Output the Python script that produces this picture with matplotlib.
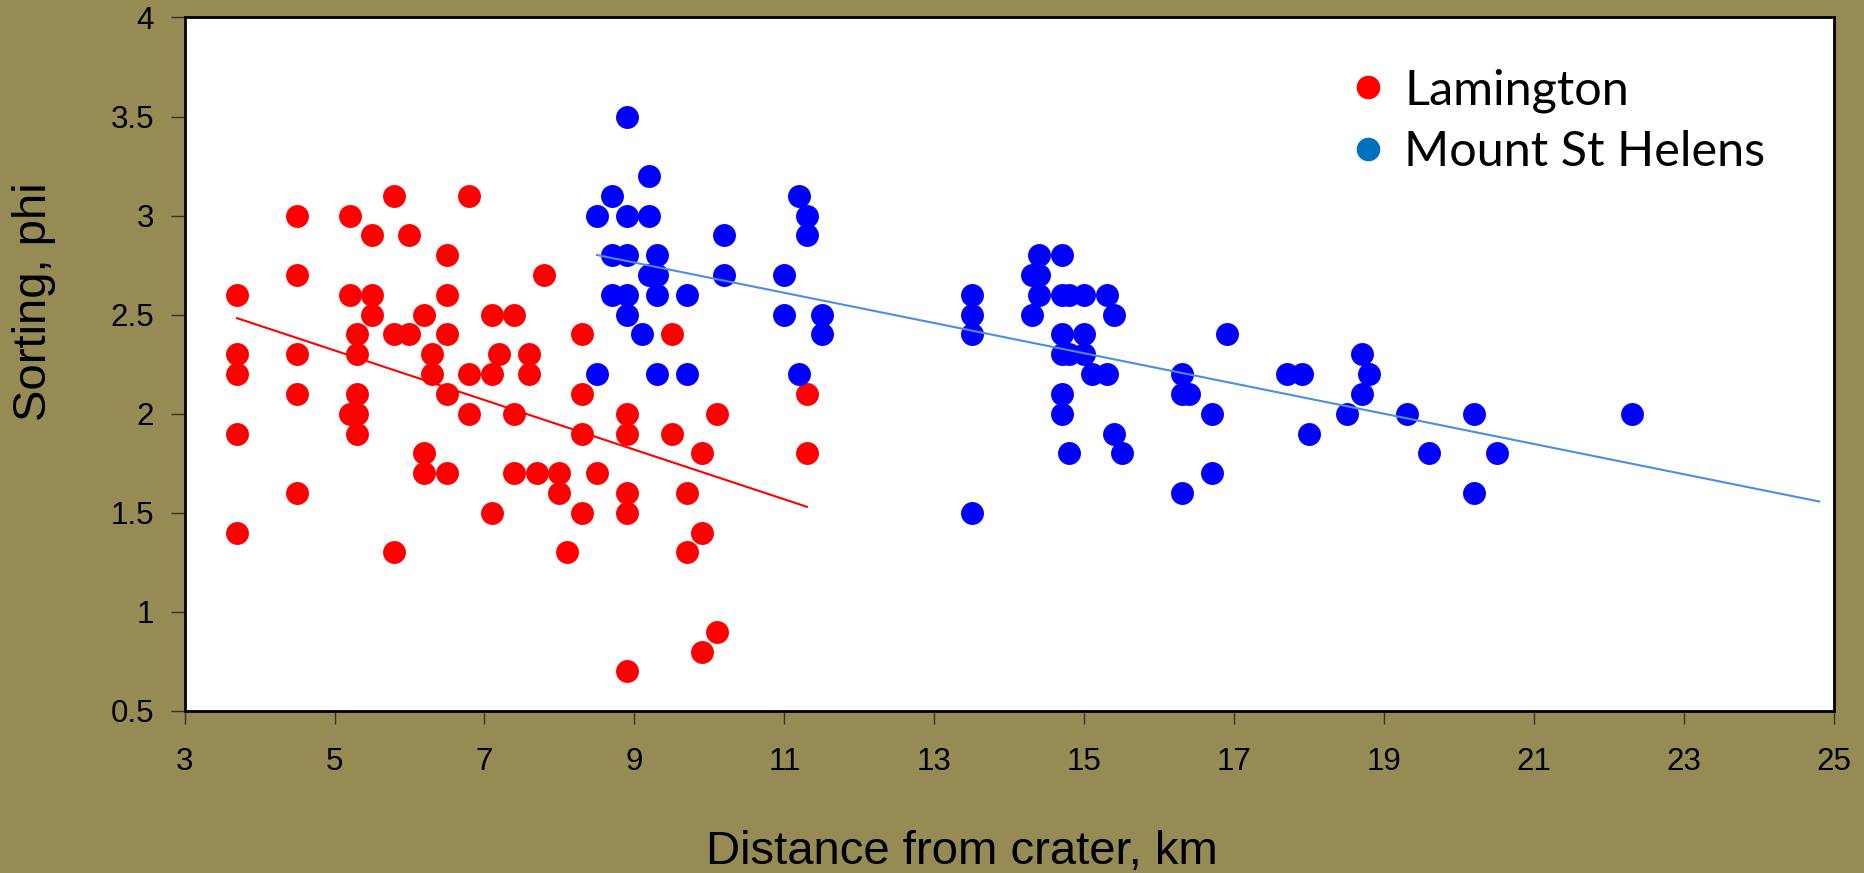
import matplotlib
matplotlib.use("Agg")
import matplotlib.pyplot as plt
from matplotlib.lines import Line2D
import numpy as np

# Lamington: distance from crater (km) vs sorting (phi)
lam_x = [3.7, 3.7, 3.7, 3.7, 3.7,
         4.5, 4.5, 4.5, 4.5, 4.5,
         5.2, 5.2, 5.2,
         5.3, 5.3, 5.3, 5.3, 5.3,
         5.5, 5.5, 5.5,
         5.8, 5.8, 5.8,
         6.0, 6.0,
         6.2, 6.2, 6.2,
         6.3, 6.3,
         6.5, 6.5, 6.5, 6.5, 6.5,
         6.8, 6.8, 6.8,
         7.1, 7.1, 7.1,
         7.2,
         7.4, 7.4, 7.4,
         7.6, 7.6,
         7.7, 7.8,
         8.0, 8.0, 8.1,
         8.3, 8.3, 8.3, 8.3,
         8.5,
         8.9, 8.9, 8.9, 8.9, 8.9,
         9.5, 9.5,
         9.7, 9.7,
         9.9, 9.9, 9.9,
         10.1, 10.1,
         11.3, 11.3]
lam_y = [2.6, 2.3, 2.2, 1.9, 1.4,
         3.0, 2.7, 2.3, 2.1, 1.6,
         3.0, 2.6, 2.0,
         2.4, 2.3, 2.1, 2.0, 1.9,
         2.9, 2.6, 2.5,
         3.1, 2.4, 1.3,
         2.9, 2.4,
         2.5, 1.8, 1.7,
         2.3, 2.2,
         2.8, 2.6, 2.4, 2.1, 1.7,
         3.1, 2.2, 2.0,
         2.5, 2.2, 1.5,
         2.3,
         2.5, 2.0, 1.7,
         2.3, 2.2,
         1.7, 2.7,
         1.7, 1.6, 1.3,
         2.4, 2.1, 1.9, 1.5,
         1.7,
         2.0, 1.9, 1.6, 1.5, 0.7,
         2.4, 1.9,
         1.6, 1.3,
         1.8, 1.4, 0.8,
         2.0, 0.9,
         2.1, 1.8]

# Mount St Helens
msh_x = [8.5, 8.5,
         8.7, 8.7, 8.7,
         8.9, 8.9, 8.9, 8.9, 8.9,
         9.1,
         9.2, 9.2, 9.2,
         9.3, 9.3, 9.3, 9.3,
         9.7, 9.7,
         10.2, 10.2,
         11.0, 11.0,
         11.2, 11.2,
         11.3, 11.3,
         11.5, 11.5,
         13.5, 13.5, 13.5, 13.5,
         14.3, 14.3,
         14.4, 14.4, 14.4,
         14.7, 14.7, 14.7, 14.7, 14.7, 14.7,
         14.8, 14.8, 14.8,
         15.0, 15.0, 15.0,
         15.1,
         15.3, 15.3,
         15.4, 15.4,
         15.5,
         16.3, 16.3, 16.3,
         16.4,
         16.7, 16.7,
         16.9,
         17.7, 17.9, 18.0, 18.5,
         18.7, 18.7, 18.8,
         19.3, 19.6,
         20.2, 20.2,
         20.5, 22.3]
msh_y = [3.0, 2.2,
         3.1, 2.8, 2.6,
         3.5, 3.0, 2.8, 2.6, 2.5,
         2.4,
         3.2, 3.0, 2.7,
         2.8, 2.7, 2.6, 2.2,
         2.6, 2.2,
         2.9, 2.7,
         2.7, 2.5,
         3.1, 2.2,
         3.0, 2.9,
         2.5, 2.4,
         2.6, 2.5, 2.4, 1.5,
         2.7, 2.5,
         2.8, 2.7, 2.6,
         2.8, 2.6, 2.4, 2.3, 2.1, 2.0,
         2.6, 2.3, 1.8,
         2.6, 2.4, 2.3,
         2.2,
         2.6, 2.2,
         2.5, 1.9,
         1.8,
         2.2, 2.1, 1.6,
         2.1,
         2.0, 1.7,
         2.4,
         2.2, 2.2, 1.9, 2.0,
         2.3, 2.1, 2.2,
         2.0, 1.8,
         2.0, 1.6,
         1.8, 2.0]

x_ticks = [3, 5, 7, 9, 11, 13, 15, 17, 19, 21, 23, 25]
y_ticks = [0.5, 1, 1.5, 2, 2.5, 3, 3.5, 4]
y_tick_labels = ["0.5", "1", "1.5", "2", "2.5", "3", "3.5", "4"]
msh_forecast = 2.5  # trendline extended forward (km)

BG = "#968A55"

fig = plt.figure(figsize=(18.64, 8.73), dpi=100, facecolor=BG)
ax = fig.add_axes([0.099, 0.1856, 0.885, 0.7944])
ax.set_facecolor("white")

ax.plot(lam_x, lam_y, "o", color="#FF0000", ms=16.5, mec="none", zorder=2)
ax.plot(msh_x, msh_y, "o", color="#0000FF", ms=16.5, mec="none", zorder=3)

# linear trendlines
lx = np.array(lam_x); ly = np.array(lam_y)
k1, b1 = np.polyfit(lx, ly, 1)
xr = np.array([lx.min(), lx.max()])
ax.plot(xr, k1 * xr + b1, color="#FF0000", lw=1.5, zorder=4)

mx = np.array(msh_x); my = np.array(msh_y)
k2, b2 = np.polyfit(mx, my, 1)
xb = np.array([mx.min(), mx.max() + msh_forecast])
ax.plot(xb, k2 * xb + b2, color="#4A8FE0", lw=1.5, zorder=4)

ax.set_xlim(3, 25)
ax.set_ylim(0.5, 4)
ax.set_xticks(x_ticks)
ax.set_yticks(y_ticks)
ax.set_yticklabels(y_tick_labels)
for s in ax.spines.values():
    s.set_linewidth(2)
    s.set_color("black")
ax.tick_params(axis="x", direction="out", length=9, width=1, color="#333333",
               pad=17, labelsize=22.5)
ax.tick_params(axis="y", direction="out", length=10, width=1, color="#333333",
               pad=12, labelsize=22.5)
for lab in ax.get_xticklabels() + ax.get_yticklabels():
    lab.set_family("Liberation Sans")

fig.text(962 / 1864, (873 - 864) / 873, "Distance from crater, km",
         ha="center", va="baseline", fontsize=34, family="Liberation Sans")
fig.text(34 / 1864, 1 - 302 / 873, "Sorting, phi", rotation=90,
         ha="center", va="center", fontsize=34, family="Liberation Sans")

handles = [Line2D([], [], ls="none", marker="o", ms=17, color="#FF0000", mec="none"),
           Line2D([], [], ls="none", marker="o", ms=17, color="#0070C0", mec="none")]
ax.legend(handles, ["Lamington", "Mount St Helens"], loc="upper left",
          bbox_to_anchor=(1319 / 1864, 1 - 44 / 873), bbox_transform=fig.transFigure,
          frameon=False, prop={"family": "Lato", "size": 35},
          handletextpad=0.25, labelspacing=0.35, handlelength=1.0, borderpad=0)

fig.savefig("out.png", dpi=100, facecolor=BG)
